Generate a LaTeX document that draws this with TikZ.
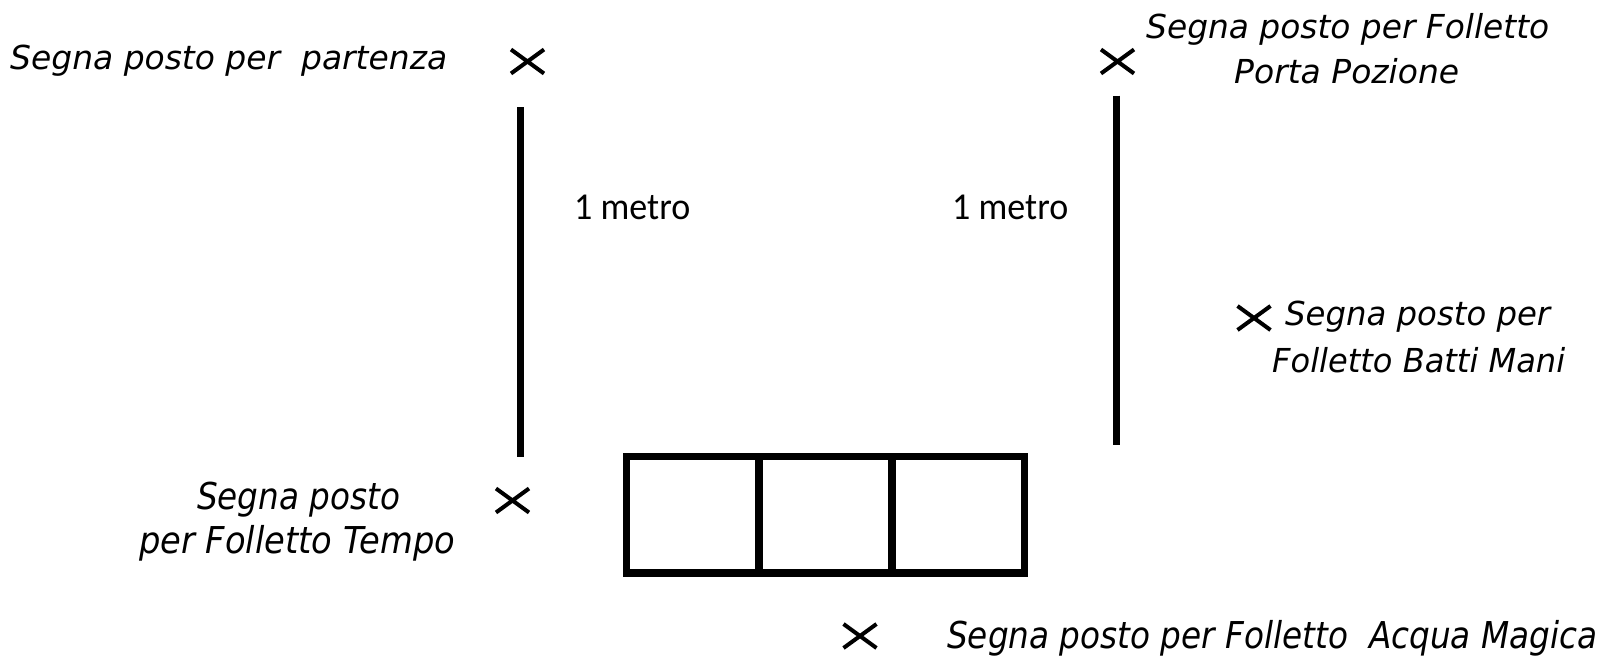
\documentclass[tikz,border=0pt]{standalone}
\usepackage{fontspec}
\usepackage{graphicx}
\newfontfamily\lblfont{DejaVu Sans}
\newfontfamily\metrofont{Carlito}
% set one line of text to a given width, keeping its height
\newcommand\fitline[2]{\resizebox{#1}{\height}{#2}}
\tikzset{
  lbl/.style={anchor=base west, inner sep=0pt, font=\lblfont\itshape\fontsize{33}{38}\selectfont},
  lblbig/.style={lbl, font=\lblfont\itshape\fontsize{37}{42}\selectfont},
  misura/.style={anchor=base west, inner sep=0pt, font=\metrofont\fontsize{38}{44}\selectfont},
  bar/.style={line width=7.5pt, line cap=butt},
  pics/segno/.style={code={\draw[line width=4pt] (-16.5,-12) -- (16.5,12) (-16.5,12) -- (16.5,-12);}}
}
\begin{document}
\begin{tikzpicture}[x=1pt,y=-1pt]
\useasboundingbox (0,0) rectangle (1602,656);

% places marked on the floor
\pic at (527.5,61.5) {segno};
\pic at (1117.5,61.5) {segno};
\pic at (1254,318) {segno};
\pic at (512.5,500.5) {segno};
\pic at (860,636) {segno};

% the two one-metre lines
\coordinate (la) at (520.5,107);
\coordinate (lb) at (520.5,457);
\coordinate (ra) at (1116.5,95.5);
\coordinate (rb) at (1116.5,445);
\draw[bar] (la) -- (lb);
\draw[bar] (ra) -- (rb);

% the box with three squares
\coordinate (b1) at (626.5,456.5);
\coordinate (b2) at (1024.5,573);
\coordinate (d1t) at (759.2,456.5);
\coordinate (d1b) at (759.2,573);
\coordinate (d2t) at (891.8,456.5);
\coordinate (d2b) at (891.8,573);
\draw[bar] (b1) rectangle (b2);
\draw[bar] (d1t) -- (d1b) (d2t) -- (d2b);

% distances
\node[misura] (m1) at (574,219) {\fitline{116pt}{1 metro}};
\node[misura] (m2) at (952,219) {\fitline{116pt}{1 metro}};

% labels
\node[lbl] (partenza) at (10,69) {\fitline{437pt}{Segna posto per~ partenza}};
\node[lbl] (pozioneA) at (1146,38.5) {\fitline{403pt}{Segna posto per Folletto}};
\node[lbl] (pozioneB) at (1234,83) {\fitline{225pt}{Porta Pozione}};
\node[lbl] (battiA) at (1285,325) {\fitline{265pt}{Segna posto per}};
\node[lbl] (battiB) at (1272,372) {\fitline{293pt}{Folletto Batti Mani}};
\node[lblbig] (tempoA) at (197,509) {\fitline{203pt}{Segna posto}};
\node[lblbig] (tempoB) at (139,553) {\fitline{316pt}{per Folletto Tempo}};
\node[lblbig] (acqua) at (947,648) {\fitline{650pt}{Segna posto per Folletto~ Acqua Magica}};
\end{tikzpicture}
\end{document}
